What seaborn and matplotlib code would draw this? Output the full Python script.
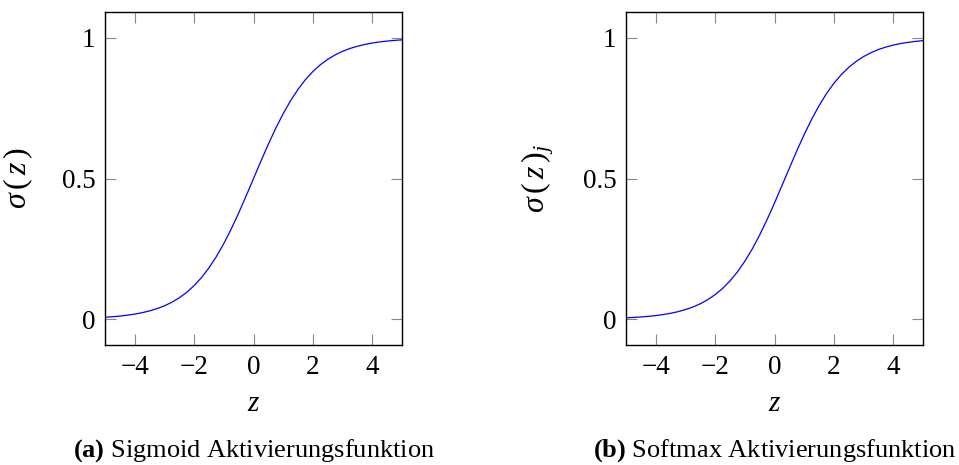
import numpy as np
import pandas as pd
import matplotlib
matplotlib.use('Agg')
import matplotlib.pyplot as plt
import matplotlib.ticker as mticker
import seaborn as sns

# ── Datos ─────────────────────────────────────────────────────
z_vals = [-5.0, -4.75, -4.5, -4.25, -4.0, -3.75, -3.5, -3.25, -3.0, -2.75,
          -2.5, -2.25, -2.0, -1.75, -1.5, -1.25, -1.0, -0.75, -0.5, -0.25,
          0.0, 0.25, 0.5, 0.75, 1.0, 1.25, 1.5, 1.75, 2.0, 2.25,
          2.5, 2.75, 3.0, 3.25, 3.5, 3.75, 4.0, 4.25, 4.5, 4.75, 5.0]

sigmoid_vals = [0.0067, 0.0086, 0.0110, 0.0141, 0.0180, 0.0230, 0.0293, 0.0373, 0.0474, 0.0601,
                0.0759, 0.0953, 0.1192, 0.1480, 0.1824, 0.2227, 0.2689, 0.3208, 0.3775, 0.4378,
                0.5000, 0.5622, 0.6225, 0.6792, 0.7311, 0.7773, 0.8176, 0.8520, 0.8808, 0.9047,
                0.9241, 0.9399, 0.9526, 0.9627, 0.9707, 0.9770, 0.9820, 0.9859, 0.9890, 0.9914, 0.9933]

softmax_vals = [0.0047, 0.0061, 0.0078, 0.0100, 0.0127, 0.0163, 0.0208, 0.0266, 0.0339, 0.0431,
                0.0547, 0.0691, 0.0871, 0.1091, 0.1359, 0.1680, 0.2059, 0.2497, 0.2994, 0.3543,
                0.4134, 0.4750, 0.5374, 0.5987, 0.6570, 0.7109, 0.7595, 0.8022, 0.8389, 0.8699,
                0.8957, 0.9168, 0.9340, 0.9478, 0.9589, 0.9677, 0.9747, 0.9802, 0.9845, 0.9879, 0.9905]

x_ticks = [-4, -2, 0, 2, 4]
x_tick_labels = ['\u22124', '\u22122', '0', '2', '4']
y_ticks = [0, 0.5, 1]
y_tick_labels = ['0', '0.5', '1']

paneles = [
    (sigmoid_vals, r'$\sigma\,(\,z\,)$', 'Sigmoid Aktivierungsfunktion', '(a)'),
    (softmax_vals, r'$\sigma\,(\,z\,)_j$', 'Softmax Aktivierungsfunktion', '(b)'),
]

# ── Estilo ────────────────────────────────────────────────────
sns.set_theme(style='ticks')
plt.rcParams.update({
    'font.family':      ['Liberation Serif', 'DejaVu Serif'],
    'mathtext.fontset': 'custom',
    'mathtext.rm':      'Liberation Serif',
    'mathtext.it':      'Liberation Serif:italic',
    'mathtext.bf':      'Liberation Serif:bold',
    'axes.linewidth':   1.0,
    'axes.edgecolor':   'black',
    'text.color':       'black',
    'axes.labelcolor':  'black',
    'xtick.labelcolor': 'black',
    'ytick.labelcolor': 'black',
    'figure.facecolor': 'white',
})

fig = plt.figure(figsize=(9.59, 4.65), dpi=100)
posiciones = [0.1095, 0.6528]

for izq, (valores, etiqueta_y, titulo, letra) in zip(posiciones, paneles):
    eje = fig.add_axes([izq, 0.258, 0.3097, 0.716])
    df = pd.DataFrame({'z': z_vals, 'y': valores})
    sns.lineplot(data=df, x='z', y='y', color='#0000ff', lw=0.9, ax=eje)

    eje.set_xlim(-5, 5)
    eje.set_ylim(-0.092, 1.092)
    eje.set_xticks(x_ticks)
    eje.xaxis.set_major_formatter(mticker.FixedFormatter(x_tick_labels))
    eje.set_yticks(y_ticks)
    eje.yaxis.set_major_formatter(mticker.FixedFormatter(y_tick_labels))
    eje.tick_params(direction='in', length=8, width=0.8, color='#888888',
                    top=True, right=True, labelsize=19.5, pad=7)
    for lado in eje.spines.values():
        lado.set_visible(True)
        lado.set_color('black')

    eje.set_xlabel(r'$z$', fontsize=21, labelpad=8)
    eje.set_ylabel(etiqueta_y, fontsize=23)
    eje.yaxis.set_label_coords(-0.235, 0.5)

    centro = izq + 0.3097 / 2
    fig.text(centro, 0.032, r'$\mathbf{' + letra + '}$ ' + titulo,
             ha='center', va='center', fontsize=19)

plt.savefig('out.png', dpi=100)
